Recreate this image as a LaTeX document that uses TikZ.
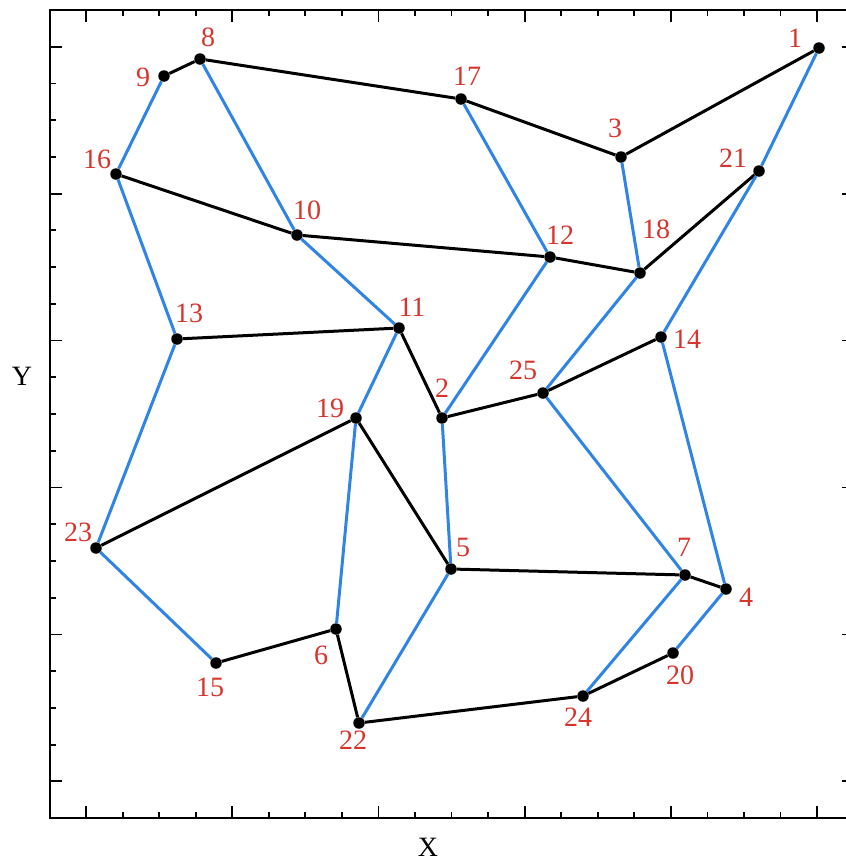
\documentclass[tikz,border=0pt]{standalone}
\usepackage{fontspec}
\setmainfont{Liberation Serif}
\usepackage{tikz}
\usetikzlibrary{calc}
\definecolor{TourRed}{RGB}{214,52,44}
\definecolor{LinkBlue}{RGB}{48,132,230}

\tikzset{
	dot/.style={circle, fill=black, inner sep=0pt, minimum size=11.5pt},
	lbl/.style={text=TourRed, font=\fontsize{28}{28}\selectfont, inner sep=0pt},
	axlbl/.style={text=black, font=\fontsize{28}{28}\selectfont, inner sep=0pt},
	blk/.style={line width=3pt, black},
	blu/.style={line width=3pt, LinkBlue},
	tick/.style={line width=1.8pt, black}
}

\begin{document}
\begin{tikzpicture}[x=1pt, y=-1pt]
		\useasboundingbox (0,0) rectangle (846,863);
		\clip (0,0) rectangle (846,863);
		
		% 坐标框
		\draw[line width=2pt] (49.5,10) rectangle (854,818);
		
		% 刻度, 每 4 格一个长刻度
		\foreach \i in {1,...,21} {
			\pgfmathsetmacro{\tx}{49.5+36.55*\i}
			\pgfmathsetmacro{\ty}{10+36.73*\i}
			\pgfmathsetmacro{\tl}{ifthenelse(mod(\i,4)==1,12,6)}
			\draw[tick] (\tx,818) -- ++(0,-\tl);
			\draw[tick] (\tx,10) -- ++(0,\tl);
			\draw[tick] (49.5,\ty) -- ++(\tl,0);
			\draw[tick] (854,\ty) -- ++(-\tl,0);
		}
		
		\node[axlbl] (ylab) at (22,376) {Y};
		\node[axlbl] (xlab) at (428,847) {X};
		
		% 25 个点
		\node[dot] (p1) at (819,48) {};
		\node[dot] (p2) at (442,418) {};
		\node[dot] (p3) at (621,157) {};
		\node[dot] (p4) at (726,589) {};
		\node[dot] (p5) at (451,569) {};
		\node[dot] (p6) at (336,629) {};
		\node[dot] (p7) at (685,575) {};
		\node[dot] (p8) at (200,59) {};
		\node[dot] (p9) at (164,76) {};
		\node[dot] (p10) at (297,235) {};
		\node[dot] (p11) at (399,328) {};
		\node[dot] (p12) at (550,257) {};
		\node[dot] (p13) at (177,339) {};
		\node[dot] (p14) at (661,337) {};
		\node[dot] (p15) at (216,663) {};
		\node[dot] (p16) at (116,174) {};
		\node[dot] (p17) at (461,99) {};
		\node[dot] (p18) at (640,273) {};
		\node[dot] (p19) at (356,418) {};
		\node[dot] (p20) at (673,653) {};
		\node[dot] (p21) at (759,171) {};
		\node[dot] (p22) at (359,723) {};
		\node[dot] (p23) at (96,548) {};
		\node[dot] (p24) at (583,696) {};
		\node[dot] (p25) at (543,393) {};
		
		% 编号
		\node[lbl] (l1) at (795,38) {1};
		\node[lbl] (l2) at (442,388) {2};
		\node[lbl] (l3) at (615,128) {3};
		\node[lbl] (l4) at (746,597) {4};
		\node[lbl] (l5) at (463,547) {5};
		\node[lbl] (l6) at (321,655) {6};
		\node[lbl] (l7) at (684,547) {7};
		\node[lbl] (l8) at (208,37) {8};
		\node[lbl] (l9) at (143,77) {9};
		\node[lbl] (l10) at (307,210) {10};
		\node[lbl] (l11) at (412,307) {11};
		\node[lbl] (l12) at (560,235) {12};
		\node[lbl] (l13) at (189,313) {13};
		\node[lbl] (l14) at (687,339) {14};
		\node[lbl] (l15) at (210,687) {15};
		\node[lbl] (l16) at (97,159) {16};
		\node[lbl] (l17) at (467,76) {17};
		\node[lbl] (l18) at (656,229) {18};
		\node[lbl] (l19) at (330,408) {19};
		\node[lbl] (l20) at (680,675) {20};
		\node[lbl] (l21) at (733,158) {21};
		\node[lbl] (l22) at (353,740) {22};
		\node[lbl] (l23) at (78,532) {23};
		\node[lbl] (l24) at (578,717) {24};
		\node[lbl] (l25) at (523,370) {25};
		
		% 黑色连线
		\draw[blk] (p9) -- (p8) -- (p17) -- (p3) -- (p1);
		\draw[blk] (p16) -- (p10) -- (p12) -- (p18) -- (p21);
		\draw[blk] (p13) -- (p11) -- (p2) -- (p25) -- (p14);
		\draw[blk] (p23) -- (p19) -- (p5) -- (p7) -- (p4);
		\draw[blk] (p15) -- (p6) -- (p22) -- (p24) -- (p20);
		
		% 蓝色连线
		\draw[blu] (p9) -- (p16) -- (p13) -- (p23) -- (p15);
		\draw[blu] (p8) -- (p10) -- (p11) -- (p19) -- (p6);
		\draw[blu] (p17) -- (p12) -- (p2) -- (p5) -- (p22);
		\draw[blu] (p3) -- (p18) -- (p25) -- (p7) -- (p24);
		\draw[blu] (p1) -- (p21) -- (p14) -- (p4) -- (p20);
	\end{tikzpicture}
\end{document}
